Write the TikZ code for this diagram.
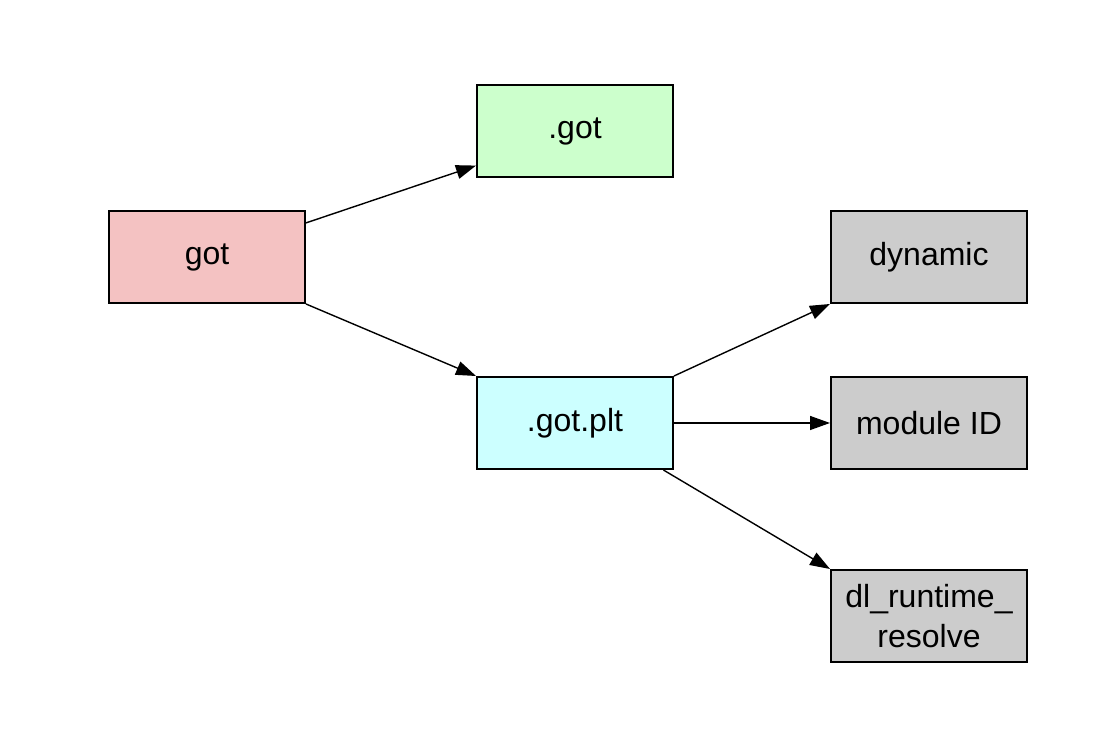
\documentclass[tikz,border=0pt]{standalone}
\usepackage{fontspec}
\setmainfont{Liberation Sans}
\usetikzlibrary{arrows.meta}
\definecolor{gotred}{HTML}{F4C2C2}
\definecolor{gotgreen}{HTML}{CCFFCC}
\definecolor{gotcyan}{HTML}{CCFFFF}
\definecolor{gotgray}{HTML}{CCCCCC}
\tikzset{
    section/.style={draw, line width=1pt, minimum width=98pt, minimum height=46pt,
        inner sep=0pt, align=center, font=\fontsize{16}{20}\selectfont},
    link/.style={-{Triangle[length=10pt, width=7pt]}, line width=0.7pt}
}
\begin{document}
\begin{tikzpicture}[x=0.5pt, y=0.5pt]
            \useasboundingbox (0,0) rectangle (1094,744);

            % Sections
            \node [section, fill=gotred] (got) at (207,487) {got};
            \node [section, fill=gotgreen] (dotgot) at (575,612.5) {.got};
            \node [section, fill=gotcyan] (gotplt) at (575,321) {.got.plt};
            \node [section, fill=gotgray] (dynamic) at (929,487) {dynamic};
            \node [section, fill=gotgray] (moduleid) at (929,321) {module ID};
            \node [section, fill=gotgray] (resolve) at (929,128) {dl\_runtime\_\\resolve};

            % Arrows
            \draw [link] (got.19) -- (dotgot.199);
            \draw [link] (got.south east) -- (gotplt.north west);
            \draw [link] (gotplt.north east) -- (dynamic.south west);
            \draw [link] (gotplt.east) -- (moduleid.west);
            \draw [link] (gotplt.332) -- (resolve.north west);
        \end{tikzpicture}
\end{document}
